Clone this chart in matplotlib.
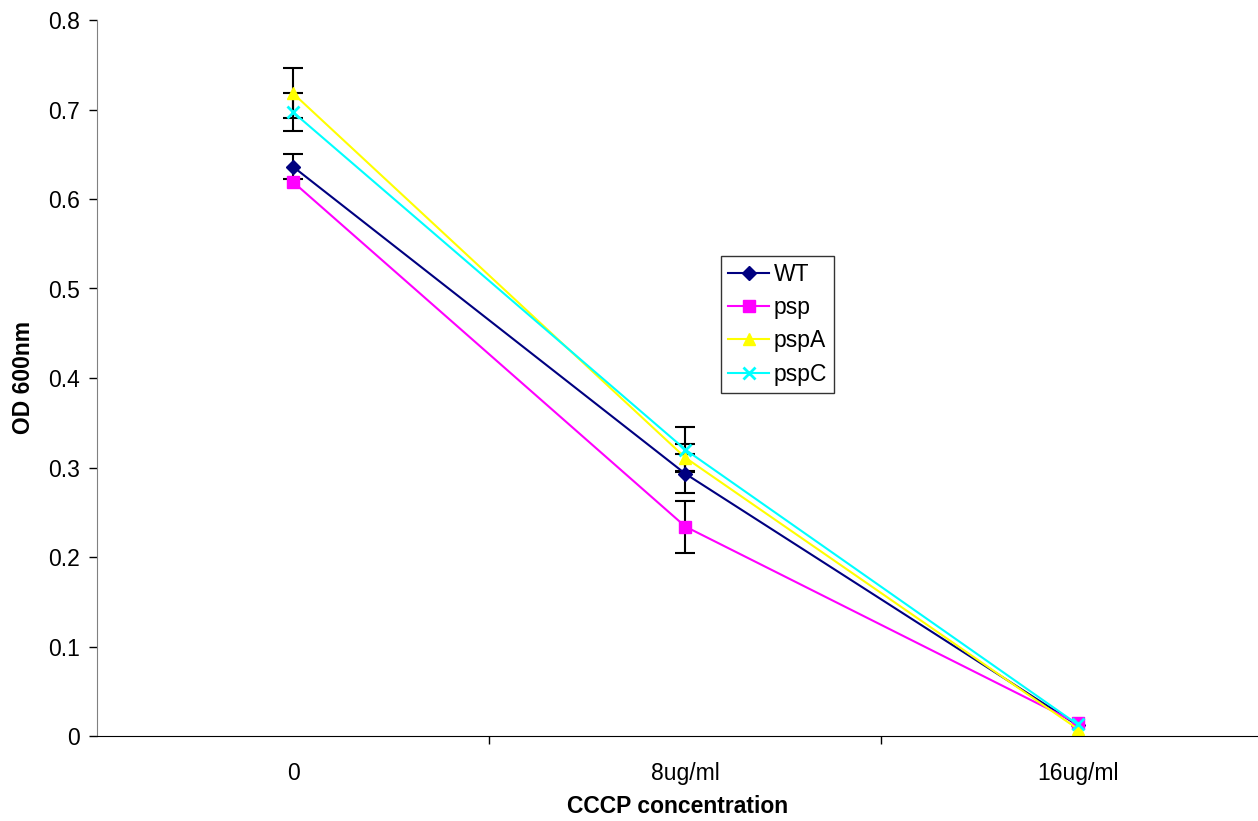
import matplotlib
matplotlib.use('Agg')
from matplotlib import pyplot as plt

plt.rcParams['font.family'] = ['Liberation Sans', 'DejaVu Sans']

# 数据
categories = ['0', '8ug/ml', '16ug/ml']
wt = [0.636, 0.293, 0.012]
psp = [0.619, 0.234, 0.014]
pspA = [0.718, 0.311, 0.008]
pspC = [0.697, 0.320, 0.013]
wt_err = [0.014, 0.022, 0.0]
psp_err = [0.0, 0.029, 0.0]
pspA_err = [0.028, 0.015, 0.0]
pspC_err = [0.021, 0.025, 0.0]

series = [
    ('WT', wt, wt_err, '#000080', 'D', 7),
    ('psp', psp, psp_err, '#FF00FF', 's', 8),
    ('pspA', pspA, pspA_err, '#FFFF00', '^', 9),
    ('pspC', pspC, pspC_err, '#00FFFF', 'x', 9),
]

fig = plt.figure(figsize=(12.58, 8.21), dpi=100)
ax = fig.add_axes([97 / 1258, 1 - 736 / 821, (1258 - 97) / 1258, (736 - 20) / 821])

x = list(range(len(categories)))
for name, vals, err, color, marker, ms in series:
    # 误差线，只画非零的
    ex = [xi for xi, e in zip(x, err) if e > 0]
    ey = [v for v, e in zip(vals, err) if e > 0]
    ee = [e for e in err if e > 0]
    ax.errorbar(ex, ey, yerr=ee, fmt='none', ecolor='black', elinewidth=1.5,
                capsize=7, capthick=1.5, zorder=2)
    ax.plot(x, vals, color=color, marker=marker, markersize=ms,
            markeredgewidth=2 if marker == 'x' else 1, linewidth=1.5, label=name, zorder=3)

ax.set_xlim(-0.5, 2.46)
ax.set_ylim(0, 0.8)
ax.set_yticks([0, 0.1, 0.2, 0.3, 0.4, 0.5, 0.6, 0.7, 0.8])
ax.set_yticklabels(['0', '0.1', '0.2', '0.3', '0.4', '0.5', '0.6', '0.7', '0.8'])
ax.set_xticks(x)
ax.set_xticklabels(categories)
ax.set_xticks([0.5, 1.5], minor=True)
ax.tick_params(axis='x', which='major', length=0, pad=19, labelsize=16.5)
ax.tick_params(axis='x', which='minor', length=6, width=1, direction='out')
ax.tick_params(axis='y', length=6, width=1, direction='out', labelsize=16.5, pad=6)

ax.spines['top'].set_visible(False)
ax.spines['right'].set_visible(False)
ax.spines['left'].set_color('#808080')
ax.spines['bottom'].set_color('black')
ax.spines['bottom'].set_zorder(5)

ax.set_xlabel('CCCP concentration', fontsize=16.5, fontweight='bold', labelpad=7)
ax.set_ylabel('OD 600nm', fontsize=16.5, fontweight='bold', labelpad=10)

leg = ax.legend(loc='upper left', bbox_to_anchor=((721 - 97) / 1161, (736 - 256) / 716),
                fontsize=16.5, frameon=True, fancybox=False, edgecolor='black',
                handlelength=1.8, handletextpad=0.2, borderpad=0.3, labelspacing=0.45,
                borderaxespad=0)
leg.get_frame().set_linewidth(1)

plt.savefig('out.png', dpi=100)
